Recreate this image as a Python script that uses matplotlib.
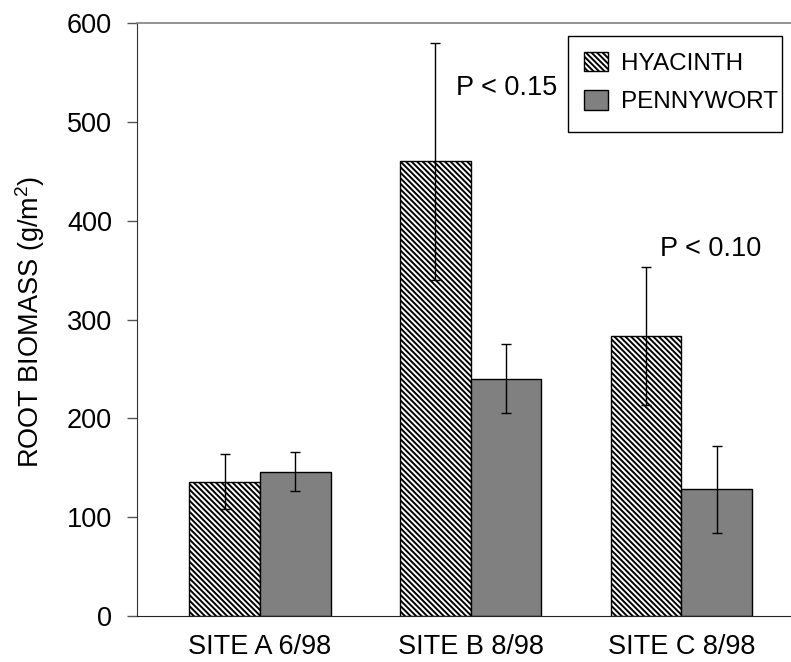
#Root biomass by site, hyacinth vs pennywort
import numpy as np
from matplotlib import pyplot as plt
from matplotlib.patches import Rectangle

plt.rcParams['font.family'] = ['Liberation Sans', 'DejaVu Sans']
plt.rcParams['mathtext.fontset'] = 'custom'
plt.rcParams['mathtext.rm'] = 'Liberation Sans'
plt.rcParams['mathtext.it'] = 'Liberation Sans'
plt.rcParams['hatch.linewidth'] = 1.4

#Sites and means (g/m2) with error bar half-widths
sites = ['SITE A 6/98', 'SITE B 8/98', 'SITE C 8/98']
hyacinth = [136, 460, 283]
hyacinthErr = [28, 120, 70]
pennywort = [146, 240, 128]
pennywortErr = [20, 35, 44]
pLabels = ['P < 0.15', 'P < 0.10']
pPos = [(0.93, 534), (1.90, 371)]

fs = 19.5
legFs = 17.5
fig = plt.figure(figsize=(7.91, 6.62), dpi=100)
ax = fig.add_axes([137/791, 1-616/662, 1-137/791, (616-23)/662])

x = np.arange(len(sites))
w = 0.335
ax.bar(x - w/2, hyacinth, w, color='white', edgecolor='black', hatch='\\'*6,
       linewidth=1.0, label='HYACINTH')
ax.bar(x + w/2, pennywort, w, color='#808080', edgecolor='black',
       linewidth=1.0, label='PENNYWORT')
ax.errorbar(x - w/2, hyacinth, yerr=hyacinthErr, fmt='none', ecolor='black',
            elinewidth=1.0, capsize=3.3, capthick=1.0)
ax.errorbar(x + w/2, pennywort, yerr=pennywortErr, fmt='none', ecolor='black',
            elinewidth=1.0, capsize=3.3, capthick=1.0)

for lbl, (px, py) in zip(pLabels, pPos):
    ax.text(px, py, lbl, fontsize=fs, ha='left', va='center')

ax.set_xlim(-0.584, 2.52)
ax.set_ylim(0, 600)
ax.set_yticks(range(0, 601, 100))
ax.set_xticks(x)
ax.set_xticklabels(sites, fontsize=fs)
ax.tick_params(axis='x', length=0, pad=13)
ax.tick_params(axis='y', direction='out', length=7, width=1, color='#555555',
               labelsize=fs, pad=11)

ax.spines['right'].set_visible(False)
ax.spines['top'].set_color('#808080')
ax.spines['top'].set_linewidth(1.2)
ax.spines['left'].set_color('#333333')
ax.spines['bottom'].set_color('#222222')

fig.text(30/791, 1-322/662, 'ROOT BIOMASS (g/m$^2$)', rotation=90,
         ha='center', va='center', fontsize=fs)

#Legend entries without frame, box drawn separately
leg = ax.legend(loc='upper left', bbox_to_anchor=(584/791, 1-52/662),
                bbox_transform=fig.transFigure, fontsize=legFs, frameon=False,
                handlelength=1.0, handleheight=0.85, handletextpad=0.52,
                labelspacing=0.62, borderpad=0, borderaxespad=0)
fig.add_artist(Rectangle((568/791, 1-132/662), (782-568)/791, (132-36)/662,
                         transform=fig.transFigure, fill=False,
                         edgecolor='black', linewidth=1.0))

fig.savefig('out.png', dpi=100)
